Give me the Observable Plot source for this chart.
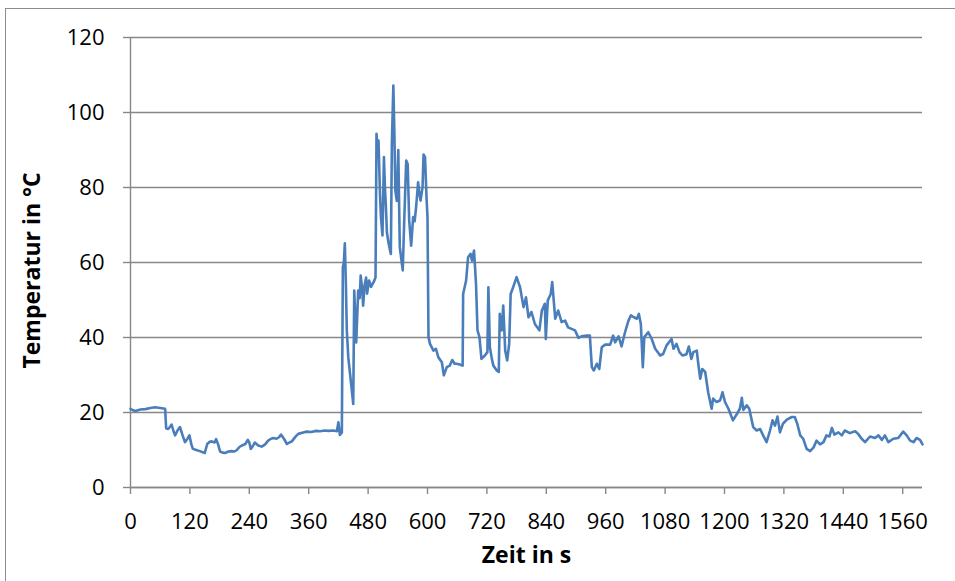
<!DOCTYPE html>
<html>
<head>
<meta charset="utf-8">
<script src="https://cdn.jsdelivr.net/npm/d3@7"></script>
<script src="https://cdn.jsdelivr.net/npm/@observablehq/plot@0.6"></script>
<style>
  html, body { margin: 0; padding: 0; background: #fff; overflow: hidden; }
  #wrap { position: relative; width: 955px; height: 581px; overflow: hidden; }
  #frame { position: absolute; left: 5px; top: 8px; width: 1000px; height: 600px; border: 1px solid #8c8c8c; box-sizing: border-box; }
  #chart { position: absolute; left: 0; top: 0; }
</style>
</head>
<body>
<div id="wrap"><div id="frame"></div><div id="chart"></div></div>
<script>
const xTicks = [0, 120, 240, 360, 480, 600, 720, 840, 960, 1080, 1200, 1320, 1440, 1560];
const yTicks = [0, 20, 40, 60, 80, 100, 120];
const xTitle = "Zeit in s";
const yTitle = "Temperatur in °C";

const seconds = [
  0, 5, 10, 20, 30, 40, 50, 60, 70, 72, 76, 80, 83, 87, 90, 95, 100, 105, 110, 115,
  119, 123, 126, 133, 140, 150, 155, 160, 164, 170, 173, 177, 181, 186, 191, 198, 204, 210, 215, 220,
  225, 232, 237, 240, 243, 247, 251, 258, 265, 272, 278, 284, 289, 295, 300, 304, 310, 316, 321, 326,
  333, 339, 347, 356, 365, 375, 383, 392, 400, 410, 417, 420, 423, 427, 429, 431, 433, 435, 437, 440,
  445, 450, 452, 456, 460, 463, 465, 468, 470, 473, 476, 478, 482, 486, 489, 492, 495, 497, 499, 501,
  504, 506, 509, 512, 514, 516, 518, 521, 524, 526, 528, 531, 533, 535, 538, 541, 544, 547, 550, 553,
  557, 560, 563, 567, 571, 574, 577, 581, 584, 586, 590, 592, 595, 598, 600, 602, 605, 612, 617, 622,
  629, 633, 639, 645, 650, 655, 659, 665, 671, 672, 678, 682, 687, 690, 694, 698, 701, 705, 709, 716,
  721, 723, 726, 730, 733, 740, 744, 746, 750, 753, 757, 761, 765, 768, 773, 780, 787, 794, 799, 804,
  810, 817, 826, 831, 837, 839, 843, 849, 852, 858, 864, 871, 878, 884, 891, 898, 905, 911, 922, 928,
  932, 936, 942, 947, 952, 959, 969, 975, 979, 986, 992, 999, 1006, 1011, 1017, 1023, 1027, 1031, 1035, 1038,
  1046, 1053, 1060, 1070, 1076, 1083, 1093, 1097, 1103, 1109, 1115, 1123, 1128, 1133, 1137, 1144, 1147, 1151, 1155, 1161,
  1167, 1174, 1177, 1184, 1191, 1196, 1201, 1208, 1217, 1225, 1231, 1235, 1238, 1245, 1250, 1258, 1265, 1272, 1278, 1285,
  1292, 1297, 1302, 1307, 1312, 1318, 1326, 1336, 1342, 1347, 1353, 1359, 1366, 1373, 1380, 1386, 1393, 1400, 1406, 1412,
  1417, 1422, 1430, 1437, 1443, 1453, 1464, 1470, 1477, 1484, 1494, 1504, 1511, 1518, 1524, 1531, 1541, 1551, 1561, 1568,
  1575, 1582, 1588, 1595, 1600
];
const temperature = [
  21.0, 20.6, 20.4, 20.8, 20.9, 21.2, 21.4, 21.2, 21.0, 15.8, 15.6, 16.2, 16.8, 15.0, 13.9, 15.2, 16.1, 14.0, 12.1, 13.0,
  13.9, 11.5, 10.3, 10.0, 9.7, 9.2, 11.6, 12.2, 12.3, 12.0, 12.9, 11.5, 9.6, 9.3, 9.2, 9.6, 9.7, 9.6, 10.0, 10.8,
  11.2, 11.6, 12.7, 12.0, 10.3, 11.0, 12.0, 11.2, 10.9, 11.5, 12.5, 13.0, 13.2, 13.0, 13.4, 14.1, 13.0, 11.6, 12.0, 12.3,
  13.5, 14.3, 14.6, 14.9, 14.8, 15.1, 15.0, 15.2, 15.1, 15.2, 15.0, 17.4, 14.0, 14.7, 58.7, 60.0, 65.1, 55.0, 41.9, 34.7,
  28.5, 22.3, 52.5, 38.7, 52.5, 50.5, 56.5, 53.0, 48.5, 54.0, 56.0, 51.7, 55.2, 53.5, 54.3, 55.0, 56.0, 94.3, 90.0, 92.5,
  78.3, 72.0, 67.2, 88.1, 80.0, 74.7, 68.0, 65.4, 63.5, 62.3, 91.6, 107.2, 95.0, 79.2, 76.4, 90.0, 64.1, 61.0, 57.9, 71.2,
  87.2, 86.2, 71.2, 64.5, 72.1, 71.0, 74.8, 81.4, 78.0, 76.5, 80.1, 88.8, 88.1, 77.4, 72.1, 40.1, 38.3, 36.5, 37.0, 34.7,
  33.4, 29.9, 32.1, 32.5, 34.0, 33.0, 33.0, 32.8, 32.5, 51.6, 55.2, 61.4, 62.3, 60.5, 63.2, 54.3, 41.9, 40.1, 34.3, 35.2,
  36.1, 53.4, 37.4, 34.3, 32.5, 31.2, 30.8, 46.3, 41.9, 48.5, 36.5, 33.9, 38.3, 51.6, 53.4, 56.1, 53.4, 48.1, 50.7, 45.4,
  46.8, 43.6, 41.9, 47.2, 49.0, 39.6, 49.9, 51.6, 54.8, 45.0, 47.2, 44.1, 44.5, 42.7, 42.3, 41.9, 39.9, 40.3, 40.5, 40.5,
  32.1, 31.2, 33.0, 31.6, 37.4, 38.1, 38.1, 40.5, 38.7, 40.3, 37.6, 41.4, 44.5, 45.9, 45.4, 45.0, 46.3, 43.6, 32.1, 40.1,
  41.4, 39.6, 37.0, 35.2, 35.6, 37.9, 39.6, 37.0, 38.3, 36.1, 35.2, 35.5, 37.6, 34.3, 36.1, 36.5, 33.0, 29.0, 31.6, 30.8,
  25.4, 21.0, 23.7, 22.8, 23.2, 25.4, 22.8, 21.0, 17.9, 19.6, 21.0, 23.9, 20.7, 21.9, 21.0, 16.1, 15.2, 15.6, 13.9, 12.1,
  15.2, 17.9, 16.5, 18.9, 14.7, 17.0, 18.1, 18.8, 18.8, 17.0, 13.9, 13.0, 10.3, 9.7, 10.7, 12.5, 11.5, 12.1, 13.9, 13.6,
  15.9, 14.1, 14.7, 13.9, 15.2, 14.5, 15.0, 14.3, 13.0, 12.1, 13.6, 13.2, 13.9, 12.7, 13.9, 12.1, 13.0, 13.2, 14.9, 13.9,
  12.5, 12.1, 13.2, 12.7, 11.5
];

const rows = seconds.map((t, i) => ({t, v: temperature[i]}));
const gray = "#878787";
const fmt = d => String(d);

const chart = Plot.plot({
  width: 955,
  height: 581,
  marginTop: 37,
  marginBottom: 94,
  marginLeft: 130,
  marginRight: 33,
  style: {fontFamily: '"Open Sans", sans-serif', fontSize: "22px", color: "#000", background: "transparent"},
  x: {domain: [0, 1600]},
  y: {domain: [0, 120]},
  marks: [
    Plot.gridY(yTicks, {stroke: gray, strokeOpacity: 1, strokeWidth: 1.4}),
    Plot.ruleX([0], {stroke: gray, strokeWidth: 1.4}),
    Plot.ruleY([0], {stroke: gray, strokeWidth: 1.4}),
    Plot.axisY(yTicks, {tickSize: 7, tickPadding: 19, tickFormat: fmt, stroke: gray, strokeWidth: 1.4, fill: "#000", fontSize: 22, label: null}),
    Plot.axisX(xTicks, {tickSize: 7, tickPadding: 19, tickFormat: fmt, stroke: gray, strokeWidth: 1.4, fill: "#000", fontSize: 22, label: null}),
    Plot.line(rows, {x: "t", y: "v", stroke: "#4a7ebb", strokeWidth: 2.6, strokeLinejoin: "round"}),
    Plot.text([xTitle], {text: d => d, frameAnchor: "bottom", textAnchor: "middle", dy: 75, fontWeight: "bold", fontSize: 23, fill: "#000"}),
    Plot.text([yTitle], {text: d => d, frameAnchor: "left", textAnchor: "middle", dx: -98, dy: 8, rotate: -90, fontWeight: "bold", fontSize: 23, fill: "#000"})
  ]
});
document.getElementById("chart").appendChild(chart);
</script>
</body>
</html>
